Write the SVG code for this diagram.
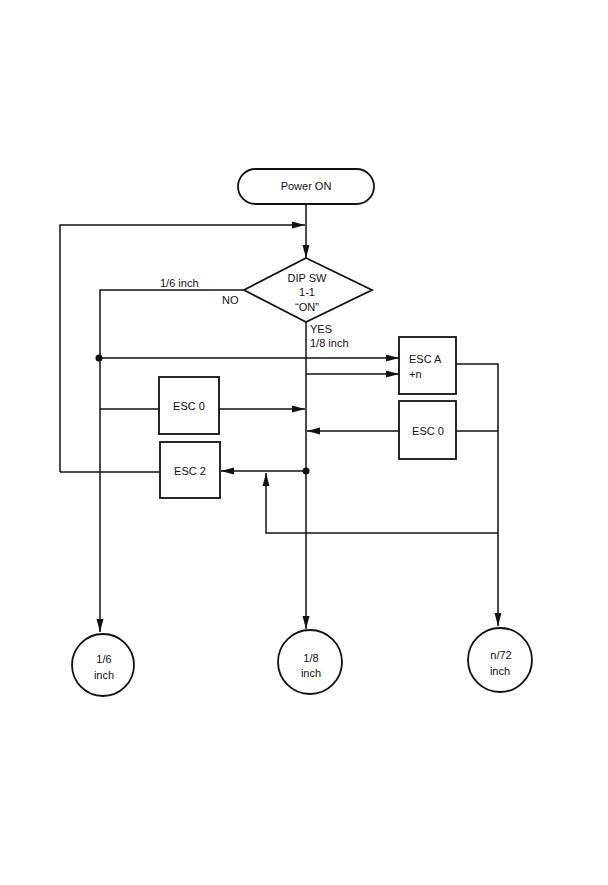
<svg xmlns="http://www.w3.org/2000/svg" width="608" height="885" viewBox="0 0 608 885">
<style>
.s{fill:none;stroke:#111;stroke-width:1.5}
.b{fill:#fff;stroke:#111;stroke-width:1.8}
text{font-family:"Liberation Sans",Arial,sans-serif;font-size:11px;fill:#111}
.c{text-anchor:middle}
</style>
<defs>
<marker id="a" markerUnits="userSpaceOnUse" markerWidth="14" markerHeight="8" refX="13" refY="4" orient="auto">
<path d="M0,0.5 L13,4 L0,7.5 Z" fill="#111"/>
</marker>
</defs>
<rect width="608" height="885" fill="#fff"/>
<g id="connectors">
<path class="s" d="M306,204 V258" marker-end="url(#a)"/>
<path class="s" d="M60,472 V225 H305" marker-end="url(#a)"/>
<path class="s" d="M244,290 H100 V632" marker-end="url(#a)"/>
<path class="s" d="M306,322 V629" marker-end="url(#a)"/>
<path class="s" d="M100,358 H399" marker-end="url(#a)"/>
<path class="s" d="M306,374 H399" marker-end="url(#a)"/>
<path class="s" d="M100,409 H159"/>
<path class="s" d="M219,409 H305" marker-end="url(#a)"/>
<path class="s" d="M399,431 H307" marker-end="url(#a)"/>
<path class="s" d="M456,431 H498"/>
<path class="s" d="M456,364 H498 V626" marker-end="url(#a)"/>
<path class="s" d="M306,471 H221" marker-end="url(#a)"/>
<path class="s" d="M160,472 H60"/>
<path class="s" d="M498,533 H266 V473" marker-end="url(#a)"/>
<circle cx="99" cy="358" r="3.5" fill="#111"/>
<circle cx="306" cy="471" r="3.5" fill="#111"/>
</g>
<g id="power-on">
<rect class="b" x="238" y="169" width="136" height="35" rx="17.5"/>
<text class="c" x="306" y="190">Power ON</text>
</g>
<g id="dip-sw">
<path class="b" d="M306,258 L372,290 L306,322 L244,290 Z"/>
<text class="c" x="307" y="282">DIP SW</text>
<text class="c" x="307" y="296">1-1</text>
<text class="c" x="307" y="311">“ON”</text>
<text x="160" y="287">1/6 inch</text>
<text x="222" y="304">NO</text>
<text x="310" y="333">YES</text>
<text x="310" y="347">1/8 inch</text>
</g>
<g id="esc-a">
<rect class="b" x="399" y="337" width="57" height="57"/>
<text x="409" y="363">ESC A</text>
<text x="409" y="378">+n</text>
</g>
<g id="esc-0-right">
<rect class="b" x="399" y="401" width="57" height="58"/>
<text class="c" x="428" y="435">ESC 0</text>
</g>
<g id="esc-0-left">
<rect class="b" x="159" y="377" width="60" height="57"/>
<text class="c" x="189" y="410">ESC 0</text>
</g>
<g id="esc-2">
<rect class="b" x="160" y="442" width="60" height="56"/>
<text class="c" x="190" y="475">ESC 2</text>
</g>
<g id="out-1-6">
<circle class="b" cx="103" cy="665" r="31"/>
<text class="c" x="104" y="663">1/6</text>
<text class="c" x="104" y="679">inch</text>
</g>
<g id="out-1-8">
<circle class="b" cx="310" cy="662" r="32"/>
<text class="c" x="311" y="662">1/8</text>
<text class="c" x="311" y="677">inch</text>
</g>
<g id="out-n-72">
<circle class="b" cx="500" cy="660" r="32"/>
<text class="c" x="501" y="659">n/72</text>
<text class="c" x="500" y="675">inch</text>
</g>
</svg>
